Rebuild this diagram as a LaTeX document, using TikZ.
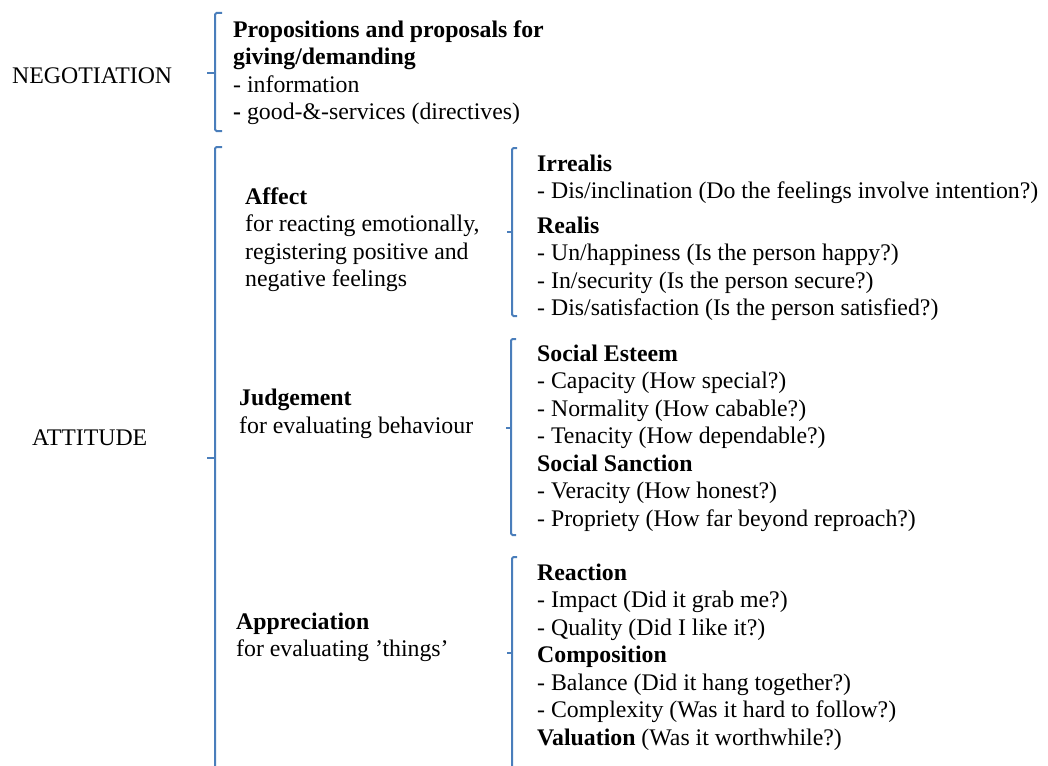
\documentclass[tikz,border=0pt]{standalone}
\usepackage{fontspec}
\setmainfont{Liberation Serif}
\definecolor{bracecol}{HTML}{4A7EBB}
\begin{document}
\begin{tikzpicture}[x=1pt,y=-1pt,
  txt/.style={anchor=base west,inner sep=0pt,font=\fontsize{23.8}{27.5}\selectfont},
  brk/.style={draw=bracecol,line width=2pt,rounded corners=1.5pt}]
\useasboundingbox (0,0) rectangle (1048,765);

% brackets
\draw[brk] (222,13) -- (215,13) -- (215,131) -- (222,131);
\draw[brk] (215,73) -- (207,73);
\draw[brk] (222,147) -- (215,147) -- (215,775);
\draw[brk] (215,458) -- (207,458);
\draw[brk] (517,148) -- (512,148) -- (512,316) -- (517,316);
\draw[brk] (512,232) -- (507,232);
\draw[brk] (516,339) -- (511,339) -- (511,535) -- (516,535);
\draw[brk] (511,428) -- (506,428);
\draw[brk] (517,557) -- (512,557) -- (512,775);
\draw[brk] (512,653) -- (507,653);

% left labels
\node[txt] (neg) at (12,84) {NEGOTIATION};
\node[txt] (att) at (32,445) {ATTITUDE};

% negotiation
\node[txt] (n1) at (233,37.5) {\textbf{Propositions and proposals for}};
\node[txt] (n2) at (233,65) {\textbf{giving/demanding}};
\node[txt] (n3) at (233,92.5) {- information};
\node[txt] (n4) at (233,120) {\textbf{-} good-\&-services (directives)};

% middle column
\node[txt] (a1) at (245,204) {\textbf{Affect}};
\node[txt] (a2) at (245,231.5) {for reacting emotionally,};
\node[txt] (a3) at (245,259) {registering positive and};
\node[txt] (a4) at (245,286.5) {negative feelings};

\node[txt] (j1) at (239,405.5) {\textbf{Judgement}};
\node[txt] (j2) at (239,433) {for evaluating behaviour};

\node[txt] (p1) at (236,629) {\textbf{Appreciation}};
\node[txt] (p2) at (236,656.5) {for evaluating ’things’};

% right column: affect
\node[txt] (r1) at (537,171) {\textbf{Irrealis}};
\node[txt] (r2) at (537,198.5) {- Dis/inclination (Do the feelings involve intention?)};
\node[txt] (r3) at (537,233) {\textbf{Realis}};
\node[txt] (r4) at (537,260.5) {- Un/happiness (Is the person happy?)};
\node[txt] (r5) at (537,288) {- In/security (Is the person secure?)};
\node[txt] (r6) at (537,315.5) {- Dis/satisfaction (Is the person satisfied?)};

% right column: judgement
\node[txt] (s1) at (537,361) {\textbf{Social Esteem}};
\node[txt] (s2) at (537,388.5) {- Capacity (How special?)};
\node[txt] (s3) at (537,416) {- Normality (How cabable?)};
\node[txt] (s4) at (537,443.5) {- Tenacity (How dependable?)};
\node[txt] (s5) at (537,471) {\textbf{Social Sanction}};
\node[txt] (s6) at (537,498.5) {- Veracity (How honest?)};
\node[txt] (s7) at (537,526) {- Propriety (How far beyond reproach?)};

% right column: appreciation
\node[txt] (c1) at (537,580) {\textbf{Reaction}};
\node[txt] (c2) at (537,607.5) {- Impact (Did it grab me?)};
\node[txt] (c3) at (537,635) {- Quality (Did I like it?)};
\node[txt] (c4) at (537,662.5) {\textbf{Composition}};
\node[txt] (c5) at (537,690) {- Balance (Did it hang together?)};
\node[txt] (c6) at (537,717.5) {- Complexity (Was it hard to follow?)};
\node[txt] (c7) at (537,745) {\textbf{Valuation} (Was it worthwhile?)};
\end{tikzpicture}
\end{document}
